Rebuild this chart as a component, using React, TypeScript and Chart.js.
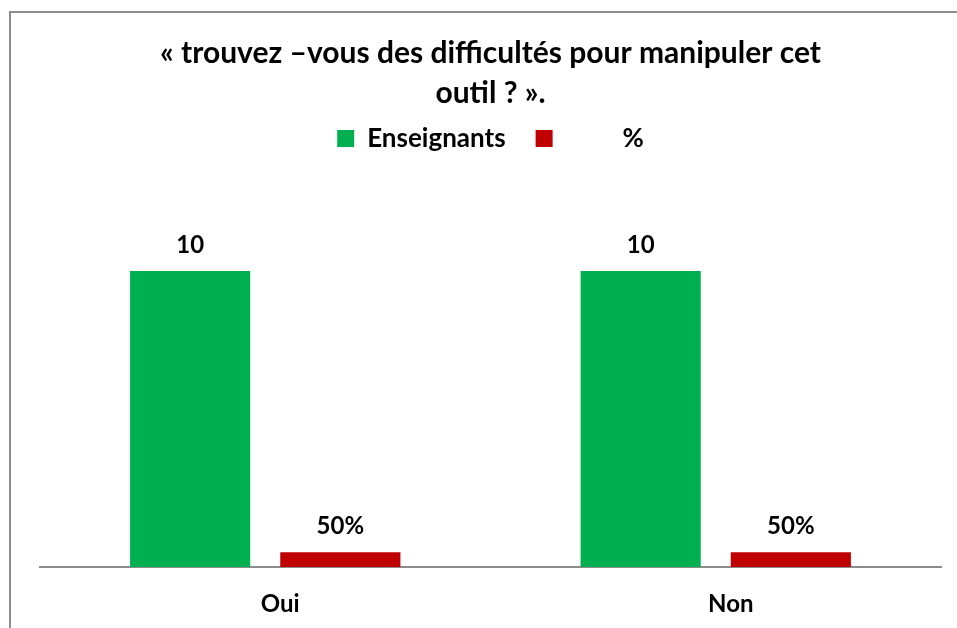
import React, { useEffect, useRef } from "react";
import { Chart, registerables } from "chart.js";

Chart.register(...registerables);

const titleLines = ["« trouvez –vous des difficultés pour manipuler cet", "outil ? »."];
const categories = ["Oui", "Non"];
const enseignants = [10, 10];
const pourcentages = [0.5, 0.5];
const seriesNames = ["Enseignants", "         %"];
const colors = ["#00B050", "#C00000"];

const FONT = "Lato, 'Open Sans', sans-serif";

const borderPlugin = {
  id: "frameBorder",
  beforeDraw(chart: any) {
    const ctx = chart.ctx;
    ctx.save();
    ctx.fillStyle = "#ffffff";
    ctx.fillRect(0, 0, chart.width, chart.height);
    ctx.strokeStyle = "#8c8c8c";
    ctx.lineWidth = 2;
    ctx.beginPath();
    ctx.moveTo(10, chart.height);
    ctx.lineTo(10, 12);
    ctx.lineTo(chart.width, 12);
    ctx.stroke();
    ctx.restore();
  },
};

const valueLabelPlugin = {
  id: "valueLabels",
  afterDatasetsDraw(chart: any) {
    const ctx = chart.ctx;
    ctx.save();
    ctx.font = `bold 24px ${FONT}`;
    ctx.fillStyle = "#000";
    ctx.textAlign = "center";
    ctx.textBaseline = "alphabetic";
    chart.data.datasets.forEach((ds: any, di: number) => {
      const meta = chart.getDatasetMeta(di);
      meta.data.forEach((el: any, i: number) => {
        const v = ds.data[i];
        const txt = di === 1 ? `${Math.round(v * 100)}%` : String(v);
        ctx.fillText(txt, el.x, el.y - 18);
      });
    });
    ctx.restore();
  },
};

export default function App() {
  const ref = useRef<HTMLCanvasElement>(null);
  useEffect(() => {
    document.body.style.margin = "0";
    const chart = new Chart(ref.current!, {
      type: "bar",
      data: {
        labels: categories,
        datasets: [
          { label: seriesNames[0], data: enseignants, backgroundColor: colors[0] },
          { label: seriesNames[1], data: pourcentages, backgroundColor: colors[1] },
        ],
      },
      options: {
        animation: false,
        responsive: false,
        devicePixelRatio: 1,
        layout: { padding: { left: 40, right: 16, top: 33, bottom: -13 } },
        datasets: { bar: { categoryPercentage: 0.6667, barPercentage: 0.8 } },
        scales: {
          x: {
            grid: { display: false, drawTicks: false },
            border: { display: true, color: "#8c8c8c", width: 2 },
            ticks: { color: "#000", font: { family: FONT, size: 24, weight: "bold" }, padding: 22.6, labelOffset: 15 },
          },
          y: { display: false, min: 0, max: 13.7 },
        },
        plugins: {
          title: {
            display: true,
            text: titleLines,
            color: "#000",
            font: { family: FONT, size: 30, weight: "bold", lineHeight: 1.34 },
            padding: { top: 0, bottom: -18 },
          },
          legend: {
            display: true,
            labels: {
              color: "#000",
              boxWidth: 17,
              boxHeight: 17,
              padding: 30,
              font: { family: FONT, size: 26, weight: "bold" },
            },
          },
          tooltip: { enabled: false },
        },
      },
      plugins: [borderPlugin, valueLabelPlugin],
    });
    return () => chart.destroy();
  }, []);
  return (
    <div style={{ position: "fixed", left: 0, top: 0, width: 957, height: 628 }}>
      <canvas ref={ref} width={957} height={628} />
    </div>
  );
}
